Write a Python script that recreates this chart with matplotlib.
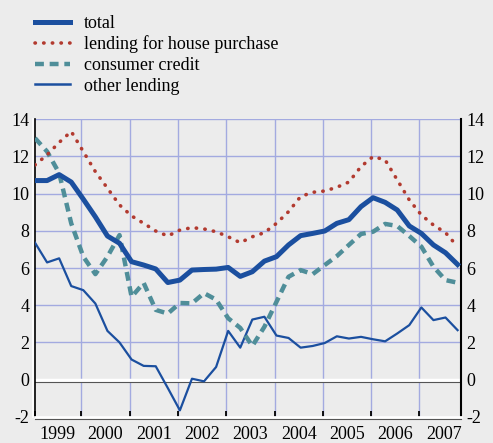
import numpy as np
import matplotlib.pyplot as plt
import matplotlib.transforms as mtransforms
from matplotlib.lines import Line2D

plt.rcParams['font.family'] = ['Liberation Serif', 'DejaVu Serif']
plt.rcParams['axes.unicode_minus'] = False

# quarterly observations, 1999 Q1 .. 2007 Q4
quarters = 1999.04 + np.arange(36) / 4.0
years = list(range(1999, 2008))

total = [10.70, 10.70, 11.02, 10.62, 9.70, 8.75, 7.72, 7.33, 6.34, 6.16,
         5.95, 5.22, 5.35, 5.89, 5.92, 5.94, 6.03, 5.55, 5.80, 6.37,
         6.61, 7.24, 7.74, 7.86, 7.99, 8.40, 8.60, 9.30, 9.78, 9.53,
         9.12, 8.26, 7.86, 7.24, 6.82, 6.19]
house = [11.54, 12.08, 12.75, 13.34, 12.26, 11.18, 10.29, 9.39, 8.80, 8.40,
         7.99, 7.72, 8.04, 8.17, 8.10, 7.95, 7.68, 7.36, 7.68, 7.90,
         8.40, 9.03, 9.84, 10.07, 10.14, 10.34, 10.62, 11.45, 11.99, 11.81,
         10.74, 9.66, 8.85, 8.31, 7.90, 7.15]
consumer = [12.98, 12.26, 11.10, 8.40, 6.61, 5.67, 6.61, 7.77, 4.45, 5.20,
            3.75, 3.55, 4.12, 4.10, 4.65, 4.30, 3.30, 2.78, 1.81, 2.84,
            4.18, 5.53, 5.89, 5.67, 6.16, 6.64, 7.24, 7.83, 7.95, 8.37,
            8.26, 7.72, 7.15, 6.07, 5.35, 5.21]
other = [7.36, 6.30, 6.52, 5.03, 4.81, 4.09, 2.62, 2.00, 1.08, 0.74,
         0.72, -0.45, -1.65, 0.05, -0.09, 0.68, 2.62, 1.72, 3.23, 3.38,
         2.37, 2.24, 1.72, 1.81, 1.97, 2.33, 2.21, 2.30, 2.17, 2.06,
         2.48, 2.93, 3.88, 3.20, 3.34, 2.66]

bg = '#ececec'
blue = '#1b4f9f'
red = '#b23a2f'
teal = '#4f8e99'
grid = '#a3aae0'

fig = plt.figure(figsize=(4.93, 4.43), dpi=100, facecolor=bg)
ax = fig.add_axes([0.071, 0.059, 0.864, 0.672], facecolor=bg)

x0, x1 = 1999.04, 2007.86
ax.set_xlim(x0, x1)
ax.set_ylim(-2, 14)

# grid
for yv in range(-2, 15, 2):
    ax.axhline(yv, color=grid, lw=1, zorder=1)
for yr in years[1:]:
    ax.axvline(yr, color=grid, lw=1, zorder=1)

# zero line: white band with dark line beneath
ax.axhline(0, color='white', lw=2.5, zorder=2)
off = mtransforms.offset_copy(ax.transData, fig=fig, x=0, y=-1.6, units='points')
ax.plot([x0, x1], [0, 0], color='#555555', lw=0.8, transform=off, zorder=2)

ax.plot(quarters, other, color=blue, lw=1.6, zorder=3)
ax.plot(quarters, consumer, color=teal, lw=3.2, ls=(0, (2.0, 1.3)), zorder=3)
ax.plot(quarters, house, color=red, lw=2.6, ls=(0, (0.1, 2.3)),
        dash_capstyle='round', zorder=3)
ax.plot(quarters, total, color=blue, lw=3.6, zorder=4)

# spines
ax.spines['top'].set_visible(False)
ax.spines['left'].set_color('black')
ax.spines['left'].set_linewidth(1.2)
ax.spines['bottom'].set_color('white')
ax.spines['bottom'].set_linewidth(2)
ax.spines['right'].set_color('black')
ax.spines['right'].set_linewidth(1.5)
# white edge left of the y axis, grey edge under the x axis
offl = mtransforms.offset_copy(ax.transData, fig=fig, x=-1.5, y=0, units='points')
ax.plot([x0, x0], [-2, 14], color='white', lw=1.2, transform=offl,
        clip_on=False, zorder=5)
offb = mtransforms.offset_copy(ax.transData, fig=fig, x=0, y=-1.6, units='points')
ax.plot([x0, x1], [-2, -2], color='#555555', lw=0.8, transform=offb,
        clip_on=False, zorder=5)

ax.set_yticks(range(-2, 15, 2))
ax.tick_params(axis='y', which='both', length=0, labelsize=13, pad=4,
               left=True, right=True, labelleft=True, labelright=True)

ax.set_xticks([x0] + years[1:] + [x1])
ax.set_xticklabels([])
ax.tick_params(axis='x', which='major', direction='in', length=4.5, width=1.3,
               color='black')
mids = [y + 0.5 for y in years]
ax.set_xticks(mids, minor=True)
ax.set_xticklabels([str(y) for y in years], minor=True)
ax.tick_params(axis='x', which='minor', length=0, labelsize=13, pad=6.5)

handles = [
    Line2D([], [], color=blue, lw=3.6),
    Line2D([], [], color=red, lw=2.6, ls=(0, (0.1, 2.3)), dash_capstyle='round'),
    Line2D([], [], color=teal, lw=3.2, ls=(0, (2.0, 1.3))),
    Line2D([], [], color=blue, lw=1.8),
]
labels = ['total', 'lending for house purchase', 'consumer credit', 'other lending']
fig.legend(handles, labels, loc='upper left', bbox_to_anchor=(0.045, 0.995),
           frameon=False, fontsize=13, handlelength=1.95, handletextpad=0.78,
           labelspacing=0.2, borderaxespad=0.3)

fig.savefig('out.png', dpi=100, facecolor=bg)
